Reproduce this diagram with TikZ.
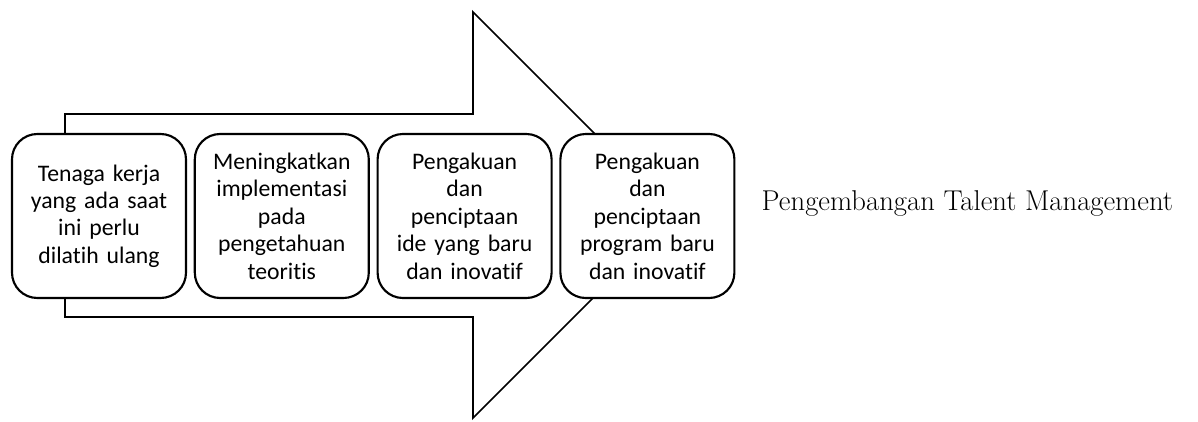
\documentclass[tikz,border=0pt]{standalone}
\usepackage{fontspec}
\usepackage{xcolor}
\usetikzlibrary{positioning}
\newfontfamily\boxfont[RawFeature={-liga}]{Carlito}
\definecolor{StepLine}{HTML}{000000}

\begin{document}
\begin{tikzpicture}[
      x=0.75pt, y=-0.75pt,
      node distance=5pt,
      stepbox/.style={
        rounded corners=19pt,
        draw=StepLine,
        fill=white,
        line width=1.6pt,
        minimum width=130.5pt,
        minimum height=123pt,
        text width=124pt,
        align=center,
        inner sep=0pt,
        font=\boxfont\fontsize{17.8}{20.6}\selectfont
      },
      bigarrow/.style={draw=StepLine,line width=1.3pt,fill=white,line join=miter},
      talentlabel/.style={anchor=west,font=\fontsize{21.5}{25}\selectfont}
    ]
      \useasboundingbox (0,0) rectangle (1198,421);
      % the big arrow behind the steps
      \draw[bigarrow] (65,114) -- (473,114) -- (473,12) -- (676,215)
        -- (473,418) -- (473,317) -- (65,317) -- cycle;
      \node[stepbox] (s1) at (99,216) {Tenaga kerja\\yang ada saat\\ini perlu\\dilatih ulang};
      \node[stepbox,right=of s1] (s2) {Meningkatkan\\implementasi\\pada\\pengetahuan\\teoritis};
      \node[stepbox,right=of s2] (s3) {Pengakuan\\dan\\penciptaan\\ide yang baru\\dan inovatif};
      \node[stepbox,right=of s3] (s4) {Pengakuan\\dan\\penciptaan\\program baru\\dan inovatif};
      \node[talentlabel] (tm) at (757,203) {Pengembangan Talent Management};
    \end{tikzpicture}
\end{document}
